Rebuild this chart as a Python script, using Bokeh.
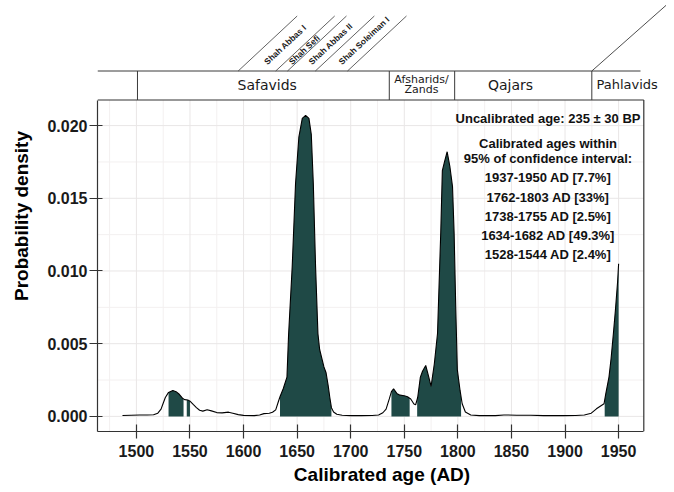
import math
import numpy as np
from bokeh.plotting import figure
from bokeh.models import Range1d, FixedTicker
from bokeh.core.properties import value
from bokeh.embed import file_html
from bokeh.resources import INLINE

# ---------------- data ----------------
years = [1487, 1495, 1503, 1510, 1516, 1520, 1523, 1525, 1527, 1530, 1534, 1537,
         1540, 1543, 1545, 1548, 1550, 1553, 1556, 1559, 1562, 1566, 1570, 1575,
         1580, 1586, 1590, 1595, 1600, 1610, 1615, 1619, 1624, 1627, 1630, 1632,
         1634, 1637, 1640.5, 1642, 1645.4, 1648.5, 1651.6, 1654.8, 1657.9, 1661,
         1663.2, 1665.1, 1667.2, 1669.4, 1671, 1675, 1677, 1679, 1680.5, 1682,
         1684, 1687, 1692, 1700, 1710, 1720, 1726, 1730, 1733, 1736, 1738, 1740,
         1743, 1746, 1750, 1753, 1756, 1759, 1760.6, 1762.5, 1765, 1767, 1770,
         1772.5, 1775, 1778, 1781, 1784, 1785.5, 1787.5, 1790, 1792.5, 1795,
         1796.5, 1798, 1799.5, 1802, 1804, 1807, 1812, 1820, 1835, 1843, 1855,
         1868, 1880, 1899, 1910, 1918, 1924.5, 1929.3, 1933.9, 1936.4, 1938,
         1941, 1943, 1945, 1947, 1949, 1950]
density = [0.00006, 0.00008, 0.00010, 0.00010, 0.00011, 0.00022, 0.00050, 0.00090,
           0.00130, 0.00165, 0.00178, 0.00170, 0.00152, 0.00125, 0.00115, 0.00113,
           0.00105, 0.00082, 0.00060, 0.00042, 0.00036, 0.00045, 0.00038, 0.00026,
           0.00024, 0.00029, 0.00022, 0.00012, 0.00007, 0.00005, 0.00010, 0.00019,
           0.00022, 0.00028, 0.00045, 0.00090, 0.00135, 0.00190, 0.00270, 0.00560,
           0.01030, 0.01600, 0.01920, 0.02050, 0.02070, 0.02050, 0.01940, 0.01600,
           0.01030, 0.00570, 0.00460, 0.00340, 0.00300, 0.00210, 0.00130, 0.00060,
           0.00030, 0.00015, 0.00008, 0.00005, 0.00005, 0.00006, 0.00010, 0.00025,
           0.00050, 0.00120, 0.00170, 0.00190, 0.00158, 0.00146, 0.00142, 0.00135,
           0.00120, 0.00085, 0.00080, 0.00130, 0.00270, 0.00310, 0.00350, 0.00280,
           0.00206, 0.00360, 0.00570, 0.01260, 0.01690, 0.01750, 0.01820, 0.01720,
           0.01580, 0.01260, 0.00750, 0.00320, 0.00180, 0.00087, 0.00030, 0.00010,
           0.00005, 0.00005, 0.00010, 0.00008, 0.00008, 0.00005, 0.00005, 0.00006,
           0.00010, 0.00022, 0.00052, 0.00075, 0.00087, 0.00155, 0.00270, 0.00400,
           0.00560, 0.00730, 0.00920, 0.01050]

interval_starts = [1530, 1547, 1634, 1738, 1762, 1937]
interval_ends = [1544, 1550, 1682, 1755, 1803, 1950]

uncal_label = "Uncalibrated age: 235 \u00b1 30 BP"
cal_header = ["Calibrated ages within", "95% of confidence interval:"]
interval_labels = ["1937-1950 AD [7.7%]", "1762-1803 AD [33%]", "1738-1755 AD [2.5%]",
                   "1634-1682 AD [49.3%]", "1528-1544 AD [2.4%]"]

x_ticks = [1500, 1550, 1600, 1650, 1700, 1750, 1800, 1850, 1900, 1950]
x_tick_labels = ["1500", "1550", "1600", "1650", "1700", "1750", "1800", "1850", "1900", "1950"]
y_ticks = [0.0, 0.005, 0.010, 0.015, 0.020]
y_tick_labels = ["0.000", "0.005", "0.010", "0.015", "0.020"]

dynasty_names = ["Safavids", "Afsharids/\nZands", "Qajars", "Pahlavids"]
dynasty_starts = [1501, 1736, 1797, 1925]
shah_names = ["Shah Abbas I", "Shah Sefi", "Shah Abbas II", "Shah Soleiman I"]
shah_bounds = [1595, 1630, 1641, 1667, 1697]

# ---------------- layout (picture pixels) ----------------
PAGE = 0
FIG_W, FIG_H = 666, 488
PANEL_L, PANEL_R, PANEL_T, PANEL_B = 97.0, 643.3, 99.5, 431.0
X0, X1 = 1463.7, 1973.5
Y0, Y1 = -0.00104, 0.02176
sx = (PANEL_R - PANEL_L) / (X1 - X0)
sy = (PANEL_B - PANEL_T) / (Y1 - Y0)
X_END = X0 + (PAGE + FIG_W - PANEL_L) / sx
Y_END = Y0 + (PANEL_B - PAGE) / sy


def px_x(px):
    return X0 + (px - PANEL_L) / sx


def px_y(py):
    return Y0 + (PANEL_B - py) / sy


def dxp(px):
    return px / sx


def dyp(px):
    return px / sy


FILL = "#1f4946"
INK = "#333333"
BOLD_FONT = value("Liberation Sans")

p = figure(width=FIG_W, height=FIG_H,
           x_range=Range1d(X0, X_END), y_range=Range1d(Y0, Y_END),
           output_backend="svg", toolbar_location=None,
           min_border_left=int(PANEL_L - PAGE), min_border_right=0,
           min_border_top=0, min_border_bottom=int(PAGE + FIG_H - PANEL_B))
p.outline_line_color = None
p.xgrid.visible = False
p.ygrid.visible = False
p.background_fill_color = "white"
p.border_fill_color = "white"

# ---- grid (major + minor), limited to panel ----
gx_major = list(x_ticks)
gx_minor = [t + 25 for t in [x_ticks[0] - 50] + x_ticks if X0 < t + 25 < X1]
gy_major = list(y_ticks)
gy_minor = [t + 0.0025 for t in [y_ticks[0] - 0.005] + y_ticks if Y0 < t + 0.0025 < Y1]
p.segment(x0=gx_minor, y0=Y0, x1=gx_minor, y1=Y1, line_color="#f3f0f0", line_width=1)
p.segment(x0=X0, y0=gy_minor, x1=X1, y1=gy_minor, line_color="#f3f0f0", line_width=1)
p.segment(x0=gx_major, y0=Y0, x1=gx_major, y1=Y1, line_color="#e9e6e6", line_width=1)
p.segment(x0=X0, y0=gy_major, x1=X1, y1=gy_major, line_color="#e9e6e6", line_width=1)

# ---- shaded 95% intervals ----
yrs = np.array(years, dtype=float)
dens = np.array(density, dtype=float)
for s, e in zip(interval_starts, interval_ends):
    inside = (yrs > s) & (yrs < e)
    xs = np.concatenate([[s], yrs[inside], [e]])
    ys = np.interp(xs, yrs, dens)
    p.varea(x=xs, y1=np.zeros_like(xs), y2=ys, fill_color=FILL)

# ---- density curve ----
p.line(years, density, line_color="black", line_width=1.1)

# ---- panel top/right border ----
p.segment(x0=[X0, X1], y0=[Y1, Y0], x1=[X1, X1], y1=[Y1, Y1], line_color=INK, line_width=1.2)

# ---- axes ----
for ax in (p.xaxis[0], p.yaxis[0]):
    ax.axis_line_color = INK
    ax.axis_line_width = 1.2
    ax.major_tick_line_color = INK
    ax.major_tick_line_width = 1.2
    ax.minor_tick_line_color = None
    ax.major_label_text_font = "Liberation Sans"
    ax.major_label_text_font_style = "bold"
    ax.major_label_text_font_size = "16px"
    ax.major_label_text_color = "#1a1a1a"
    ax.axis_label_text_font = "Liberation Sans"
    ax.axis_label_text_font_style = "bold"
    ax.axis_label_text_font_size = "19px"
    ax.axis_label_text_color = "black"

xa = p.xaxis[0]
xa.ticker = FixedTicker(ticks=x_ticks)
xa.major_label_overrides = {t: l for t, l in zip(x_ticks, x_tick_labels)}
xa.bounds = (X0, X1)
xa.major_tick_in = 7
xa.major_tick_out = 7
xa.major_label_standoff = 6
xa.axis_label = "Calibrated age (AD)"
xa.axis_label_standoff = 4

ya = p.yaxis[0]
ya.ticker = FixedTicker(ticks=y_ticks)
ya.major_label_overrides = {t: l for t, l in zip(y_ticks, y_tick_labels)}
ya.bounds = (Y0, Y1)
ya.major_tick_in = 5
ya.major_tick_out = 8
ya.major_label_standoff = 2
ya.axis_label = "Probability density"
ya.axis_label_standoff = 12

# ---- annotation text block ----
ann_x = px_x(547.5)
ann_text = [uncal_label] + cal_header + interval_labels
ann_py = [118.0, 142.7, 158.3] + [177.3 + 19.25 * i for i in range(len(interval_labels))]
p.text(x=[ann_x] * len(ann_text), y=[px_y(v) for v in ann_py], text=ann_text,
       text_align="center", text_baseline="middle", text_font=BOLD_FONT,
       text_font_style="bold", text_font_size="13px", text_color="#111111")

# ---- period header ----
HB_TOP = px_y(70.5)
HEADER_INK = "#3a3a3a"
p.segment(x0=[X0], y0=[HB_TOP], x1=[px_x(640)], y1=[HB_TOP], line_color=HEADER_INK, line_width=1)
p.segment(x0=dynasty_starts, y0=Y1, x1=dynasty_starts, y1=HB_TOP, line_color=HEADER_INK, line_width=1)

dyn_font = value("DejaVu Sans")
label_px = [266.7, 421.0, 510.0, 596.0]
label_align = ["center", "center", "center", "left"]
label_size = ["14px", "11px", "14px", "13px"]
for name, lpx, al, fs in zip(dynasty_names, label_px, label_align, label_size):
    parts = name.split("\n")
    n = len(parts)
    for k, part in enumerate(parts):
        py = 84.0 + (k - (n - 1) / 2) * 10.0
        p.text(x=[px_x(lpx)], y=[px_y(py)], text=[part], text_align=al,
               text_baseline="middle", text_font=dyn_font, text_font_size=fs,
               text_color="#1a1a1a")

# Pahlavids diagonal callout
ang_p = math.radians(41.5)
p.segment(x0=[dynasty_starts[3]], y0=[HB_TOP],
          x1=[dynasty_starts[3] + dxp(80 / math.tan(ang_p))], y1=[HB_TOP + dyp(80)],
          line_color=HEADER_INK, line_width=0.9)

# Shah reigns: diagonal separators + rotated labels
ang = math.radians(43)
rise = 55.0
sh_x0 = shah_bounds
sh_x1 = [b + dxp(rise / math.tan(ang)) for b in shah_bounds]
p.segment(x0=sh_x0, y0=HB_TOP, x1=sh_x1, y1=HB_TOP + dyp(rise),
          line_color=HEADER_INK, line_width=0.8)
h0 = 8.0
lx = [(a + b) / 2 + dxp(h0 / math.tan(ang)) for a, b in zip(shah_bounds[:-1], shah_bounds[1:])]
ly = [HB_TOP + dyp(h0)] * len(shah_names)
p.text(x=lx, y=ly, text=shah_names, angle=ang, text_align="left", text_baseline="middle",
       text_font=BOLD_FONT, text_font_style="bold", text_font_size="8.5px",
       text_color="#1a1a1a")

open("out.html", "w").write(file_html(p, INLINE))
